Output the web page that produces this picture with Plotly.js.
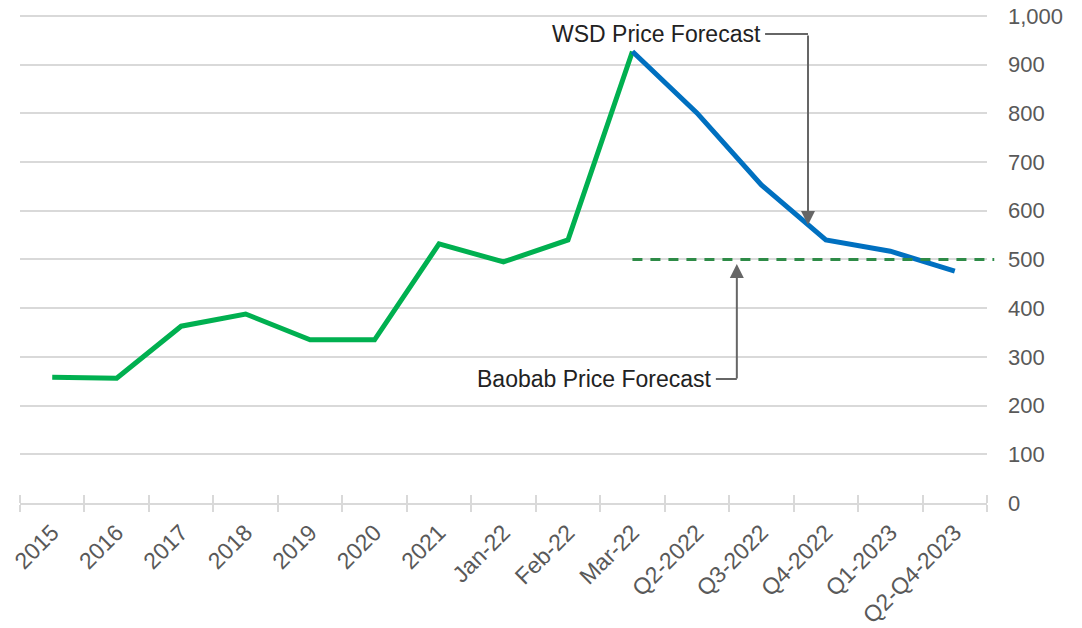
<!DOCTYPE html>
<html>
<head>
<meta charset="utf-8">
<script src="https://cdn.plot.ly/plotly-3.0.1.min.js"></script>
<style>html,body{margin:0;padding:0;background:#fff;}#chart{width:1082px;height:628px;}</style>
</head>
<body>
<div id="chart"></div>
<script>
// Data
const categories = ["2015","2016","2017","2018","2019","2020","2021","Jan-22","Feb-22","Mar-22","Q2-2022","Q3-2022","Q4-2022","Q1-2023","Q2-Q4-2023"];
const historicalCats = ["2015","2016","2017","2018","2019","2020","2021","Jan-22","Feb-22","Mar-22"];
const historicalPrice = [258, 256, 363, 388, 335, 335, 532, 495, 540, 927];
const wsdCats = ["Mar-22","Q2-2022","Q3-2022","Q4-2022","Q1-2023","Q2-Q4-2023"];
const wsdForecast = [927, 801, 653, 540, 517, 476];
const baobabStartCat = "Mar-22";
const baobabForecast = 500;
const yTicks = [0,100,200,300,400,500,600,700,800,900,1000];
const yTickLabels = ["0","100","200","300","400","500","600","700","800","900","1,000"];

const FONT = "Liberation Sans, Arial, Helvetica, sans-serif";
const n = categories.length;
const catToPaper = i => (i + 0.5) / n;
const baobabX0 = catToPaper(categories.indexOf(baobabStartCat));

const traces = [
  {x: historicalCats, y: historicalPrice, type: "scatter", mode: "lines",
   line: {color: "#00B050", width: 5}, hoverinfo: "x+y"},
  {x: wsdCats, y: wsdForecast, type: "scatter", mode: "lines",
   line: {color: "#0070C0", width: 5}, hoverinfo: "x+y"},
  // invisible carrier trace for the upper tick-mark axis
  {x: categories, y: categories.map(() => -500), xaxis: "x2", yaxis: "y", type: "scatter", mode: "markers",
   marker: {opacity: 0}, showlegend: false, hoverinfo: "skip"}
];

const gray = "#666666";
const axisGray = "#d9d9d9";
const layout = {
  width: 1082, height: 628,
  margin: {l: 20, r: 95, t: 14, b: 125},
  paper_bgcolor: "#ffffff", plot_bgcolor: "#ffffff",
  showlegend: false,
  font: {family: FONT, color: "#595959", size: 21},
  xaxis: {
    type: "category", categoryorder: "array", categoryarray: categories,
    range: [-0.5, n - 0.5],
    tickangle: -45, tickson: "boundaries", ticks: "outside", ticklen: 7,
    tickcolor: axisGray, tickwidth: 2,
    showline: true, linecolor: axisGray, linewidth: 2,
    showgrid: false, zeroline: false,
    ticklabelstandoff: 5,
    tickfont: {family: FONT, size: 23, color: "#595959"}
  },
  xaxis2: {
    type: "category", categoryorder: "array", categoryarray: categories,
    range: [-0.5, n - 0.5], overlaying: "x", side: "top", anchor: "free", position: 0,
    tickson: "boundaries", ticks: "outside", ticklen: 8,
    tickcolor: axisGray, tickwidth: 2,
    showline: false, showgrid: false, zeroline: false, showticklabels: false
  },
  yaxis: {
    side: "right", range: [0, 1004],
    tickmode: "array", tickvals: yTicks, ticktext: yTickLabels,
    showgrid: true, gridcolor: axisGray, gridwidth: 2,
    zeroline: false, showline: false, ticks: "",
    ticklabelstandoff: 20,
    tickfont: {family: FONT, size: 22, color: "#595959"}
  },
  shapes: [
    {type: "line", xref: "paper", yref: "y",
     x0: baobabX0, x1: 1.0075, y0: baobabForecast, y1: baobabForecast,
     line: {color: "#2E8B47", width: 3, dash: "10px,8px"}},
    {type: "line", xref: "paper", yref: "y",
     x0: 0.7705, x1: 0.8149, y0: 963, y1: 963,
     line: {color: gray, width: 2}},
    {type: "line", xref: "paper", yref: "y",
     x0: 0.7196, x1: 0.7413, y0: 254.6, y1: 254.6,
     line: {color: gray, width: 2}}
  ],
  annotations: [
    {xref: "paper", yref: "y", x: 0.7684, y: 963, xanchor: "right", yanchor: "middle",
     text: "WSD Price Forecast", showarrow: false,
     font: {family: FONT, size: 23, color: "#222222"}},
    {xref: "paper", yref: "y", x: 0.7177, y: 254.6, xanchor: "right", yanchor: "middle",
     text: "Baobab Price Forecast", showarrow: false,
     font: {family: FONT, size: 23, color: "#222222"}},
    {xref: "paper", yref: "y", x: 0.8149, y: 571, text: "",
     showarrow: true, arrowhead: 2, arrowsize: 1.4, arrowwidth: 2, arrowcolor: gray,
     ax: 0, ay: -191},
    {xref: "paper", yref: "y", x: 0.7413, y: 490.8, text: "",
     showarrow: true, arrowhead: 2, arrowsize: 1.4, arrowwidth: 2, arrowcolor: gray,
     ax: 0, ay: 116}
  ]
};

Plotly.newPlot("chart", traces, layout, {displayModeBar: false, staticPlot: true});
</script>
</body>
</html>
